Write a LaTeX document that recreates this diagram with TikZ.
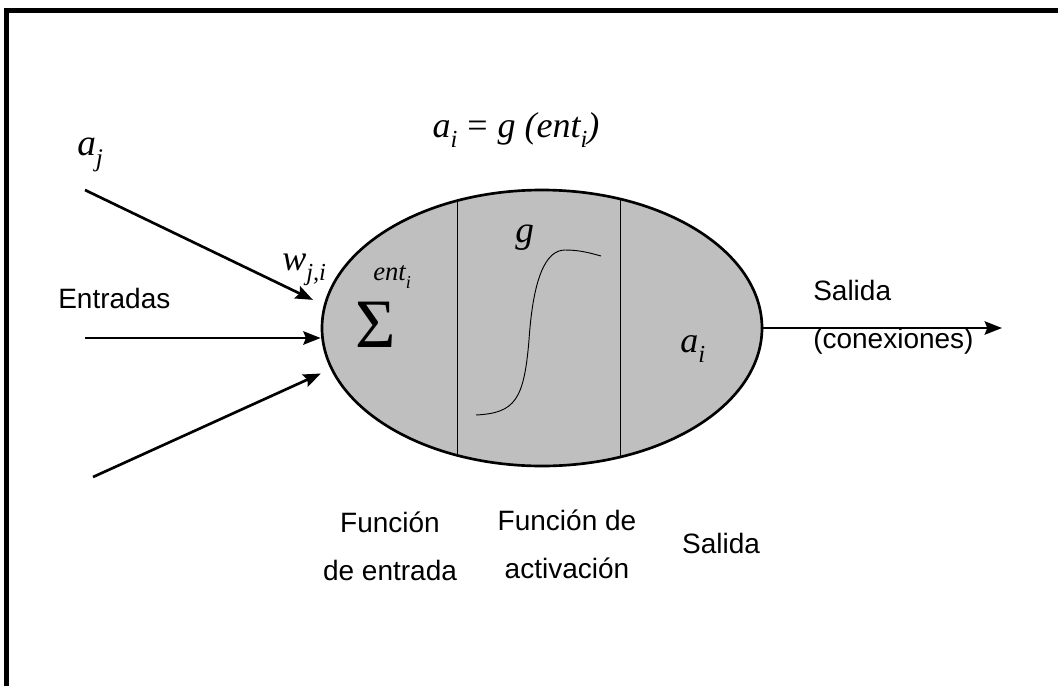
\documentclass[tikz,border=0pt]{standalone}
\usepackage[no-math]{fontspec}
\setmainfont{Liberation Sans}
\newfontfamily\tmsfont{Liberation Serif}
\usepackage{tikz}
\usetikzlibrary{positioning,shapes.geometric,arrows.meta}
\newcommand{\lowsub}[1]{\raisebox{-0.3em}{\scalebox{0.68}{#1}}}
\newcommand{\ivar}[2]{{\tmsfont\itshape #1\lowsub{#2}}}

\begin{document}
\begin{tikzpicture}[
  x=0.75pt, y=-0.75pt,
  neuron/.style={draw, ellipse, line width=2pt, fill=black!25, minimum width=330pt, minimum height=207pt, inner sep=0pt},
  divider/.style={line width=0.6pt},
  arrow/.style={-{Stealth[length=13pt,width=10pt,inset=2pt]}, line width=2pt},
  txt/.style={font=\fontsize{21}{36}\selectfont, align=center, inner sep=0pt},
  sym/.style={font=\fontsize{28}{30}\selectfont, inner sep=0pt}
]
\useasboundingbox (0,0) rectangle (1058,686);
\draw[line width=3.75pt, line join=miter] (6.7,686) -- (6.7,10) -- (1058,10);

% neuron body
\node[neuron] (cell) at (542,328) {};
\begin{scope}
  \clip (cell.center) ellipse [x radius=165pt, y radius=103.5pt];
  \draw[divider] (457,150) -- (457,500);
  \draw[divider] (620,150) -- (620,500);
\end{scope}
\draw[line width=0.7pt] (476,415) .. controls (515,413) and (524,400) .. (529,340)
  .. controls (533,280) and (545,250) .. (565,250) .. controls (580,250) and (590,253) .. (601,256);

% symbols
\node[sym, font=\fontsize{27}{30}\selectfont, anchor=base] (eq) at (516,137) {\ivar{a}{i} {\tmsfont =} {\tmsfont\itshape g (ent\lowsub{i})}};
\node[sym, anchor=base west] (aj) at (77,155) {\ivar{a}{j}};
\node[sym, font=\fontsize{27}{30}\selectfont, anchor=base west] (wji) at (282,270) {\ivar{w}{j,i}};
\node[sym, font=\fontsize{20}{24}\selectfont, anchor=base west] (ent) at (373,280) {\ivar{ent}{i}};
\node[sym, font=\fontsize{52}{56}\selectfont] (sum) at (376,325) {\tmsfont Σ};
\node[sym, anchor=base west] (g) at (515,242) {\tmsfont\itshape g};
\node[sym, font=\fontsize{27}{30}\selectfont, anchor=base west] (ai) at (680,352) {\ivar{a}{i}};

% texts
\node[txt, anchor=base west] (inputs) at (58,308) {Entradas};
\node[txt, align=left, anchor=base west] (outlabel) at (813,348) {Salida\\(conexiones)};
\node[txt, anchor=base] (fin) at (390,580) {Función\\de entrada};
\node[txt, anchor=base] (fact) at (567,578) {Función de\\activación};
\node[txt, anchor=base] (fout) at (721,553) {Salida};

% connections
\coordinate (in1) at (85,190);
\coordinate (in2) at (85,338);
\coordinate (in3) at (93,477);
\coordinate (out) at (1002,328);
\draw[arrow, shorten >=9pt] (in1) -- (cell.174);
\draw[arrow] (in2) -- (in2 -| cell.west);
\draw[arrow, shorten >=8pt] (in3) -- (cell.191);
\draw[arrow] (cell.east) -- (out);
\end{tikzpicture}
\end{document}
